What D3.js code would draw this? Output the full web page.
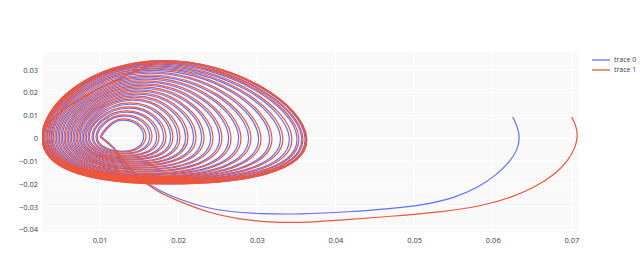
<!DOCTYPE html>
<html>
<head>
<meta charset="utf-8">
<script src="https://cdn.jsdelivr.net/npm/d3@7"></script>
<style>
  body { margin: 0; background: #fff; }
  svg { display: block; font-family: "Open Sans", verdana, arial, sans-serif; }
</style>
</head>
<body>
<svg id="chart" width="642" height="274"></svg>
<script>
// ----- data -----
const xTicks = [0.01, 0.02, 0.03, 0.04, 0.05, 0.06, 0.07];
const yTicks = [-0.04, -0.03, -0.02, -0.01, 0, 0.01, 0.02, 0.03];
const traceNames = ["trace 0", "trace 1"];
const traceColors = ["#636efa", "#EF553B"];

// tails: from the free end (top right) down and back into the spiral
const tail0X = [0.06253, 0.06316, 0.06345, 0.06316, 0.06214, 0.06049, 0.05808, 0.05516, 0.05135, 0.04690, 0.04182, 0.03547, 0.03038, 0.02657, 0.02339, 0.01996, 0.01767, 0.01615, 0.01450, 0.01285, 0.01183];
const tail0Y = [0.00932, 0.00495, 0.00013, -0.00512, -0.01037, -0.01606, -0.02175, -0.02613, -0.02919, -0.03094, -0.03226, -0.03335, -0.03313, -0.03226, -0.03051, -0.02657, -0.02307, -0.02000, -0.01562, -0.00862, -0.00381];
const tail1X = [0.07003, 0.07066, 0.07079, 0.07053, 0.06965, 0.06800, 0.06546, 0.06227, 0.05872, 0.05364, 0.04716, 0.04017, 0.03547, 0.03165, 0.02784, 0.02403, 0.01996, 0.01767, 0.01615, 0.01450, 0.01285, 0.01183];
const tail1Y = [0.00932, 0.00495, 0.00057, -0.00380, -0.00949, -0.01562, -0.02131, -0.02613, -0.02963, -0.03226, -0.03423, -0.03598, -0.03707, -0.03685, -0.03554, -0.03291, -0.02744, -0.02395, -0.02044, -0.01606, -0.00906, -0.00425];

// spiral turns, inner -> outer: extreme left/top/right/bottom of each turn
const loop0Left   = [0.01022, 0.00971, 0.00920, 0.00870, 0.00831, 0.00793, 0.00755, 0.00717, 0.00679, 0.00641, 0.00603, 0.00565, 0.00527, 0.00488, 0.00450, 0.00412, 0.00387, 0.00360, 0.00333, 0.00303, 0.00287, 0.00270];
const loop0Top    = [0.00788, 0.00963, 0.01138, 0.01313, 0.01488, 0.01663, 0.01794, 0.01925, 0.02057, 0.02188, 0.02319, 0.02451, 0.02582, 0.02713, 0.02845, 0.02976, 0.03063, 0.03155, 0.03250, 0.03305, 0.03365, 0.03400];
const loop0Right  = [0.01560, 0.01636, 0.01725, 0.01814, 0.01903, 0.01992, 0.02093, 0.02195, 0.02297, 0.02411, 0.02525, 0.02640, 0.02767, 0.02894, 0.03021, 0.03161, 0.03300, 0.03412, 0.03510, 0.03570, 0.03612, 0.03630];
const loop0Bottom = [-0.00570, -0.00657, -0.00745, -0.00832, -0.00920, -0.01007, -0.01095, -0.01182, -0.01270, -0.01357, -0.01445, -0.01532, -0.01598, -0.01664, -0.01707, -0.01751, -0.01795, -0.01842, -0.01890, -0.01940, -0.01975, -0.01998];

const loop1Left   = [0.01005, 0.00954, 0.00903, 0.00853, 0.00814, 0.00776, 0.00738, 0.00700, 0.00662, 0.00624, 0.00586, 0.00548, 0.00510, 0.00471, 0.00433, 0.00395, 0.00370, 0.00344, 0.00319, 0.00293, 0.00281, 0.00268];
const loop1Top    = [0.00845, 0.01020, 0.01195, 0.01370, 0.01545, 0.01720, 0.01851, 0.01982, 0.02114, 0.02245, 0.02376, 0.02508, 0.02639, 0.02770, 0.02902, 0.03033, 0.03120, 0.03208, 0.03295, 0.03339, 0.03383, 0.03405];
const loop1Right  = [0.01590, 0.01666, 0.01755, 0.01844, 0.01933, 0.02022, 0.02123, 0.02225, 0.02327, 0.02441, 0.02555, 0.02670, 0.02797, 0.02924, 0.03051, 0.03191, 0.03330, 0.03445, 0.03534, 0.03585, 0.03623, 0.03635];
const loop1Bottom = [-0.00600, -0.00687, -0.00775, -0.00862, -0.00950, -0.01037, -0.01125, -0.01212, -0.01300, -0.01387, -0.01475, -0.01562, -0.01628, -0.01694, -0.01737, -0.01781, -0.01825, -0.01869, -0.01912, -0.01956, -0.01983, -0.02000];

// where on each turn those extremes sit (shared by both traces)
const loopTopAtX    = [0.01285, 0.01310, 0.01335, 0.01361, 0.01386, 0.01412, 0.01437, 0.01463, 0.01488, 0.01513, 0.01539, 0.01564, 0.01590, 0.01615, 0.01640, 0.01666, 0.01691, 0.01717, 0.01742, 0.01767, 0.01793, 0.01806];
const loopBottomAtX = [0.01310, 0.01335, 0.01374, 0.01399, 0.01424, 0.01463, 0.01488, 0.01513, 0.01551, 0.01577, 0.01602, 0.01640, 0.01666, 0.01691, 0.01729, 0.01755, 0.01781, 0.01819, 0.01844, 0.01869, 0.01895, 0.01920];
const loopRightAtY  = [0.0012, 0.0012, 0.0011, 0.0011, 0.0010, 0.0010, 0.0009, 0.0009, 0.0008, 0.0008, 0.0007, 0.0006, 0.0006, 0.0005, 0.0004, 0.0004, 0.0003, 0.0002, 0.0002, 0.0001, 0.0001, 0.0000];
const loopLeftAtY   = [0.0006, 0.0005, 0.0005, 0.0004, 0.0004, 0.0003, 0.0003, 0.0002, 0.0002, 0.0001, 0.0001, 0.0000, 0.0000, -0.0001, -0.0001, -0.0002, -0.0002, -0.0003, -0.0003, -0.0004, -0.0004, -0.0005];

// ----- layout -----
const plot = { left: 42, right: 578, top: 52, bottom: 232 };

const x = d3.scaleLinear().domain([0.00268, 0.07084]).range([plot.left, plot.right]);
const y = d3.scaleLinear().domain([-0.0411, 0.03777]).range([plot.bottom, plot.top]);

const svg = d3.select("#chart");

svg.append("defs").append("clipPath").attr("id", "clip")
  .append("rect")
  .attr("x", plot.left).attr("y", plot.top)
  .attr("width", plot.right - plot.left).attr("height", plot.bottom - plot.top);

// plot background + grid
svg.append("rect")
  .attr("x", plot.left).attr("y", plot.top)
  .attr("width", plot.right - plot.left).attr("height", plot.bottom - plot.top)
  .attr("fill", "#f9f9fa");

const grid = svg.append("g");
grid.selectAll(".gx").data(xTicks).enter().append("line")
  .attr("x1", d => x(d)).attr("x2", d => x(d))
  .attr("y1", plot.top).attr("y2", plot.bottom)
  .attr("stroke", "#fff").attr("stroke-width", 1);
grid.selectAll(".gy").data(yTicks).enter().append("line")
  .attr("x1", plot.left).attr("x2", plot.right)
  .attr("y1", d => y(d)).attr("y2", d => y(d))
  .attr("stroke", "#fff").attr("stroke-width", d => d === 0 ? 1.5 : 1);

// axes (labels only, like plotly)
const fmt = d3.format(".2~f");
const xAxis = svg.append("g")
  .attr("transform", `translate(0,${plot.bottom})`)
  .call(d3.axisBottom(x).tickValues(xTicks).tickSize(0).tickPadding(6).tickFormat(fmt));
const yAxis = svg.append("g")
  .attr("transform", `translate(${plot.left},0)`)
  .call(d3.axisLeft(y).tickValues(yTicks).tickSize(0).tickPadding(4).tickFormat(fmt));
[xAxis, yAxis].forEach(a => {
  a.select(".domain").remove();
  a.selectAll("text")
    .attr("fill", "#2a3f5f")
    .style("font-size", "7.5px")
    .style("font-family", "\"Open Sans\", verdana, arial, sans-serif");
});

// ----- traces -----
function spiralPoints(left, top, right, bottom) {
  const pts = [];
  left.forEach((_, i) => {
    pts.push([left[i], loopLeftAtY[i]]);
    pts.push([loopTopAtX[i], top[i]]);
    pts.push([right[i], loopRightAtY[i]]);
    pts.push([loopBottomAtX[i], bottom[i]]);
  });
  const last = left.length - 1;
  pts.push([left[last], loopLeftAtY[last]]);
  pts.push([loopTopAtX[last], top[last]]);
  return pts;
}

const traces = [
  { tailX: tail0X, tailY: tail0Y, loops: [loop0Left, loop0Top, loop0Right, loop0Bottom] },
  { tailX: tail1X, tailY: tail1Y, loops: [loop1Left, loop1Top, loop1Right, loop1Bottom] }
];

const tailLine = d3.line().x(d => x(d[0])).y(d => y(d[1])).curve(d3.curveBasis);
const spiralLine = d3.line().x(d => x(d[0])).y(d => y(d[1])).curve(d3.curveCardinal.tension(-0.65));

const gTraces = svg.append("g").attr("clip-path", "url(#clip)");

traces.forEach((t, k) => {
  const spiral = spiralPoints(...t.loops);
  const tail = t.tailX.map((v, i) => [v, t.tailY[i]]);
  tail.push(spiral[0]);

  gTraces.append("path")
    .attr("d", tailLine(tail))
    .attr("fill", "none")
    .attr("stroke", traceColors[k])
    .attr("stroke-width", 1.2)
    .attr("stroke-linejoin", "round");

  gTraces.append("path")
    .attr("d", spiralLine(spiral))
    .attr("fill", "none")
    .attr("stroke", traceColors[k])
    .attr("stroke-width", 1.2)
    .attr("stroke-linejoin", "round");
});

// ----- legend -----
const legend = svg.append("g").attr("transform", "translate(592,60)");
traceNames.forEach((name, i) => {
  const row = legend.append("g").attr("transform", `translate(0,${i * 10})`);
  row.append("line")
    .attr("x1", 0).attr("x2", 18)
    .attr("stroke", traceColors[i]).attr("stroke-width", 1.3);
  row.append("text")
    .attr("x", 22).attr("y", 0).attr("dy", "0.35em")
    .attr("fill", "#2a3f5f")
    .style("font-size", "7px")
    .text(name);
});
</script>
</body>
</html>
